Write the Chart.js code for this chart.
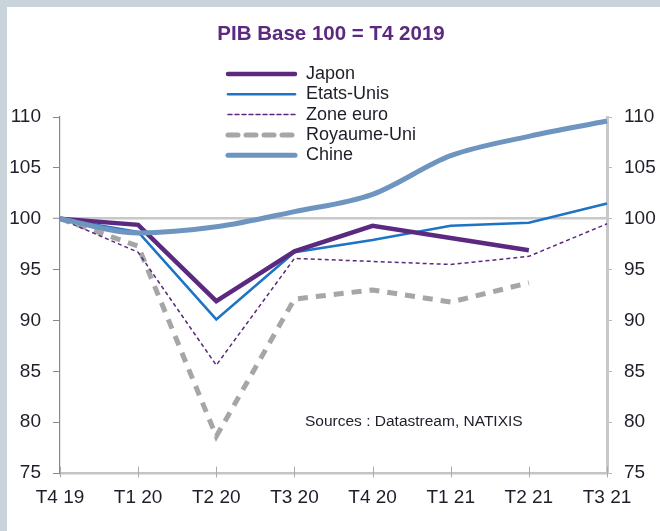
<!DOCTYPE html>
<html>
<head>
<meta charset="utf-8">
<script src="https://cdn.jsdelivr.net/npm/chart.js@4"></script>
<style>
  html, body { margin: 0; padding: 0; background: #c9d3da; }
  #wrap { position: absolute; left: 7px; top: 7px; width: 653px; height: 524px; background: #fff; }
</style>
</head>
<body>
<div id="wrap"><canvas id="pib" width="653" height="524"></canvas></div>
<script>
// Quarters on the x axis
const quarters = ['T4 19', 'T1 20', 'T2 20', 'T3 20', 'T4 20', 'T1 21', 'T2 21', 'T3 21'];

// GDP, base 100 = T4 2019
const japon = [100, 99.4, 91.9, 96.8, 99.3, 98.1, 96.9, null];
const etatsUnis = [100, 98.7, 90.1, 96.7, 97.9, 99.3, 99.6, 101.5];
const zoneEuro = [100, 96.7, 85.6, 96.1, 95.8, 95.5, 96.3, 99.5];
const royaumeUni = [100, 97.3, 78.6, 92.1, 93.0, 91.8, 93.7, null];
const chine = [100, 98.6, 99.2, 100.7, 102.4, 106.2, 108.1, 109.6];

// y axis range and steps
const yMin = 75;
const yMax = 110;
const yStep = 5;

const titleText = 'PIB Base 100 = T4 2019';
const sourceText = 'Sources : Datastream, NATIXIS';

const textColor = '#1e1e2a';
const purple = '#5b2a80';

// Draws the title, the stacked legend and the source note
const decorations = {
    id: 'decorations',
    afterDraw(chart) {
        const ctx = chart.ctx;
        ctx.save();

        ctx.fillStyle = purple;
        ctx.font = 'bold 20.5px "Liberation Sans", Arial, sans-serif';
        ctx.textAlign = 'center';
        ctx.textBaseline = 'middle';
        ctx.fillText(titleText, 324, 27);

        // legend, one row per dataset in data order
        ctx.font = '18px "Liberation Sans", Arial, sans-serif';
        ctx.textAlign = 'left';
        chart.data.datasets.forEach((ds, i) => {
            const y = 67 + i * 20.3;
            ctx.beginPath();
            ctx.strokeStyle = ds.borderColor;
            ctx.lineWidth = ds.borderWidth;
            ctx.setLineDash(ds.borderDash || []);
            ctx.lineCap = 'round';
            ctx.moveTo(221, y);
            ctx.lineTo(288, y);
            ctx.stroke();
            ctx.setLineDash([]);
            ctx.fillStyle = textColor;
            ctx.fillText(ds.label, 299, y);
        });

        // x tick marks cross the bottom axis
        const xs = chart.scales.x;
        const bottom = chart.chartArea.bottom;
        ctx.strokeStyle = '#aaa';
        ctx.lineWidth = 1;
        ctx.beginPath();
        quarters.forEach((q, i) => {
            const x = Math.round(xs.getPixelForTick(i)) + 0.5;
            ctx.moveTo(x, bottom - 6);
            ctx.lineTo(x, bottom + 4);
        });
        ctx.stroke();

        ctx.font = '15.5px "Liberation Sans", Arial, sans-serif';
        ctx.fillStyle = textColor;
        ctx.fillText(sourceText, 298, 415);
        ctx.restore();
    }
};

let canvas = document.getElementById('pib');
let context = canvas.getContext('2d');

const tickFont = { family: '"Liberation Sans", Arial, sans-serif', size: 19 };

new Chart(context, {
    type: 'line',
    data: {
        labels: quarters,
        datasets: [
            { label: 'Japon', data: japon, borderColor: purple, borderWidth: 4.5, order: 1 },
            { label: 'Etats-Unis', data: etatsUnis, borderColor: '#1d74c5', borderWidth: 2.5, order: 2 },
            { label: 'Zone euro', data: zoneEuro, borderColor: purple, borderWidth: 1.5, borderDash: [4, 3], order: 3 },
            { label: 'Royaume-Uni', data: royaumeUni, borderColor: '#a6a6a6', borderWidth: 5, borderDash: [10, 8], order: 4 },
            { label: 'Chine', data: chine, borderColor: '#6e95bf', borderWidth: 5, cubicInterpolationMode: 'monotone', order: 0 }
        ]
    },
    options: {
        responsive: false,
        animation: false,
        layout: { padding: { top: 110, left: 0, right: 0, bottom: 0 } },
        elements: {
            point: { radius: 0, hoverRadius: 0 },
            line: { tension: 0, fill: false }
        },
        plugins: {
            legend: { display: false },
            tooltip: { enabled: false }
        },
        scales: {
            x: {
                offset: false,
                grid: { drawOnChartArea: false, drawTicks: false, tickLength: 5 },
                border: { color: '#c4c4c4', width: 2.5 },
                ticks: { font: tickFont, color: textColor, padding: 13, maxRotation: 0, autoSkip: false },
                afterFit(scale) { scale.height = 58; }
            },
            y: {
                position: 'left',
                min: yMin,
                max: yMax,
                grid: {
                    color: (c) => (c.tick && c.tick.value === 100 ? '#c8c8c8' : 'rgba(0,0,0,0)'),
                    lineWidth: (c) => (c.tick && c.tick.value === 100 ? 2.5 : 1),
                    tickColor: '#888',
                    tickWidth: 1,
                    tickLength: 7
                },
                border: { color: '#888', width: 1.2 },
                ticks: { stepSize: yStep, font: tickFont, color: textColor, padding: 12 },
                afterFit(scale) { scale.width = 53; }
            },
            y1: {
                position: 'right',
                min: yMin,
                max: yMax,
                grid: { drawOnChartArea: false, tickColor: '#bbb', tickLength: 5 },
                border: { color: '#c8c8c8', width: 3 },
                ticks: { stepSize: yStep, font: tickFont, color: textColor, padding: 12 },
                afterFit(scale) { scale.width = 53; }
            }
        }
    },
    plugins: [decorations]
});
</script>
</body>
</html>
